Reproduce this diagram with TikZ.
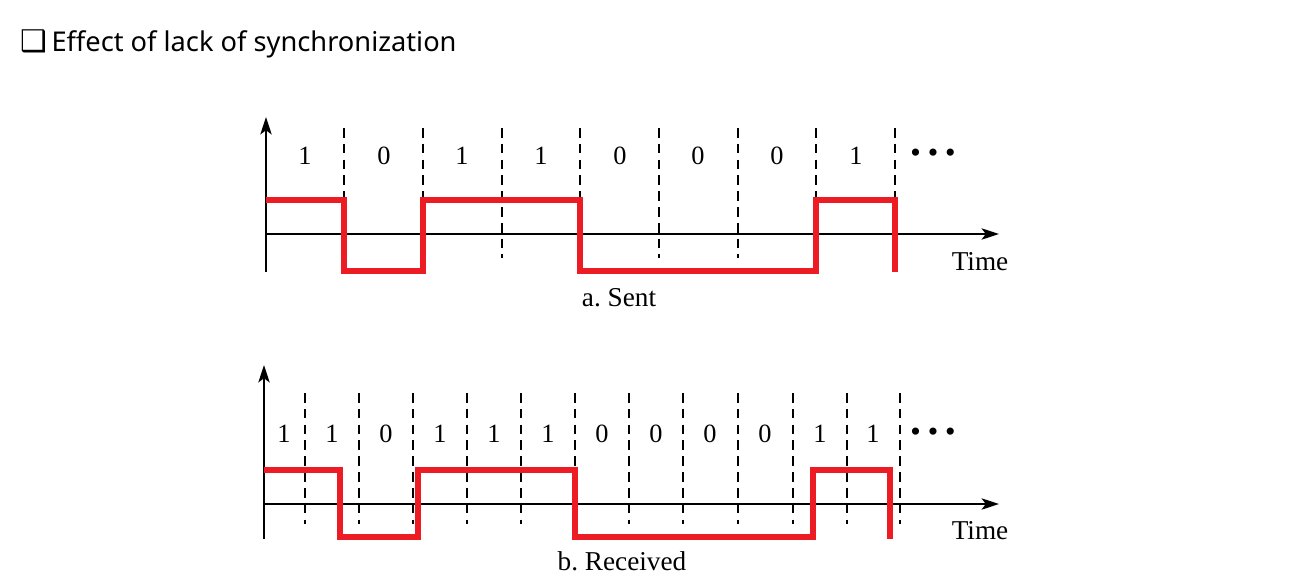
\documentclass[tikz,border=0pt]{standalone}
\usepackage{fontspec}
\setmainfont{Liberation Serif}
\newfontfamily\titlefont{Noto Sans}
\newfontfamily\symfont{DejaVu Sans}
\usetikzlibrary{arrows.meta}
\definecolor{sigred}{RGB}{237,28,36}

\begin{document}
\begin{tikzpicture}[x=0.02cm, y=-0.02cm,
	axis/.style={line width=0.75pt, -{Stealth[length=10pt, width=6.5pt, inset=2.5pt]}},
	slot/.style={line width=0.75pt, dash pattern=on 5.5pt off 3.5pt},
	signal/.style={line width=3.4pt, sigred},
	bit/.style={font=\fontsize{15}{17}\selectfont},
	caption/.style={font=\fontsize{15.5}{17}\selectfont}]
	\useasboundingbox (0, 0) rectangle (1307, 587);
	
	\node[anchor=west, font=\titlefont\fontsize{15.5}{18}\selectfont] (title) at (14, 44) {{\symfont\fontsize{17}{18}\selectfont ❑}\,Effect of lack of synchronization};
	
	% a. sent
	\coordinate (a-bottom) at (266, 272);
	\coordinate (a-top) at (266, 117);
	\coordinate (a-left) at (266, 234);
	\coordinate (a-right) at (999, 234);
	\draw [axis] (a-bottom) -- (a-top);
	\draw [axis] (a-left) -- (a-right);
	
	\foreach \x in {344, 423, 502, 580, 659, 738, 816, 895} {
		\draw [slot] (\x, 128) -- (\x, 258);
	}
	
	\draw [signal] (266, 200) -- (344, 200) -- (344, 271) -- (423, 271) -- (423, 200) -- (580, 200) -- (580, 271) -- (816, 271) -- (816, 200) -- (895, 200) -- (895, 272);
	
	\foreach \x/\b [count=\i] in {305/1, 384/0, 462/1, 541/1, 620/0, 698/0, 777/0, 856/1} {
		\node[bit] (a-bit\i) at (\x, 156) {\b};
	}
	\node[bit] (a-more) at (933, 156) {\fontsize{17}{18}\selectfont\textbullet\hspace{4pt}\textbullet\hspace{4pt}\textbullet};
	\node[caption] (a-time) at (980, 262) {Time};
	\node[caption] (a-cap) at (619, 298) {a.\ Sent};
	
	% b. received
	\coordinate (b-bottom) at (264, 539);
	\coordinate (b-top) at (264, 365);
	\coordinate (b-left) at (264, 504);
	\coordinate (b-right) at (999, 504);
	\draw [axis] (b-bottom) -- (b-top);
	\draw [axis] (b-left) -- (b-right);
	
	\foreach \x in {305, 359, 413, 467, 521, 575, 629, 683, 738, 793, 847, 900} {
		\draw [slot] (\x, 393) -- (\x, 524);
	}
	
	\draw [signal] (264, 470) -- (340, 470) -- (340, 537) -- (418, 537) -- (418, 470) -- (575, 470) -- (575, 537) -- (813, 537) -- (813, 470) -- (890, 470) -- (890, 539);
	
	\foreach \x/\b [count=\i] in {284/1, 332/1, 386/0, 440/1, 494/1, 548/1, 602/0, 656/0, 710/0, 765/0, 820/1, 873/1} {
		\node[bit] (b-bit\i) at (\x, 434) {\b};
	}
	\node[bit] (b-more) at (933, 435) {\fontsize{17}{18}\selectfont\textbullet\hspace{4pt}\textbullet\hspace{4pt}\textbullet};
	\node[caption] (b-time) at (980, 531) {Time};
	\node[caption] (b-cap) at (622, 561) {b.\ Received};
\end{tikzpicture}
\end{document}
